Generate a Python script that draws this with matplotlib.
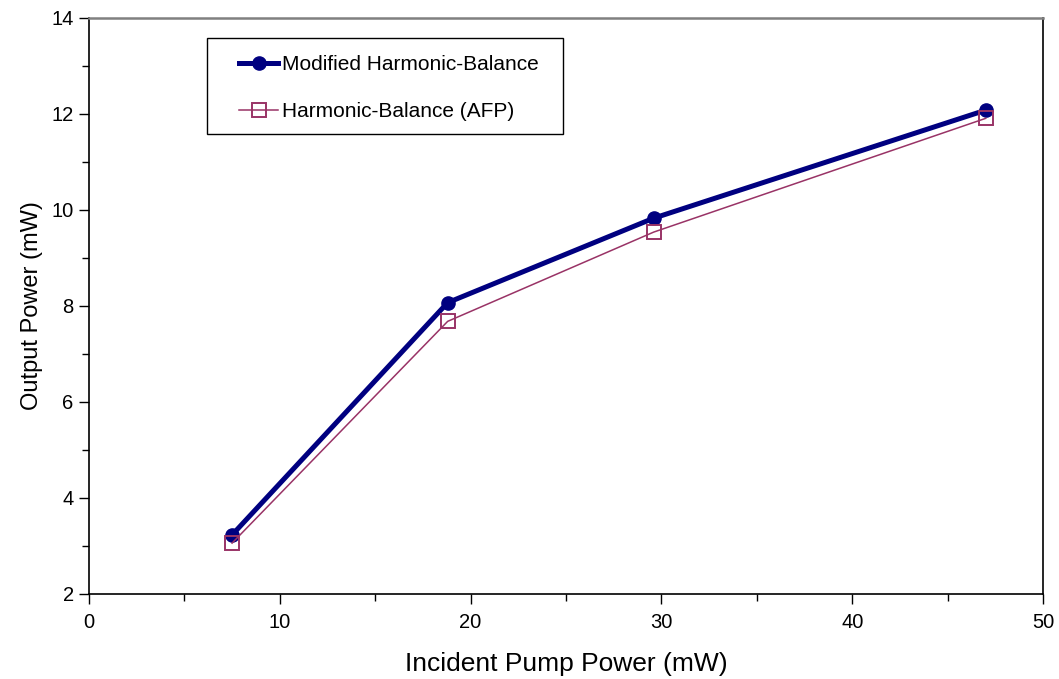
import matplotlib
matplotlib.use("Agg")
import matplotlib.pyplot as plt
from matplotlib.patches import Rectangle
from matplotlib.ticker import MultipleLocator

plt.rcParams['font.family'] = ['Liberation Sans', 'DejaVu Sans']

# data
pump_power = [7.5, 18.8, 29.6, 47.0]
modified_hb = [3.23, 8.07, 9.83, 12.08]
hb_afp = [3.06, 7.68, 9.54, 11.91]

fig = plt.figure(figsize=(10.59, 6.79), dpi=100)
ax = fig.add_axes([0.0840, 0.1252, 0.9009, 0.8483])

ax.plot(pump_power, modified_hb, color="#000080", lw=3.6, marker="o",
        markersize=9.5, label="Modified Harmonic-Balance", zorder=3)
ax.plot(pump_power, hb_afp, color="#993366", lw=1.1, marker="s",
        markersize=10, markerfacecolor="none", markeredgewidth=1.4,
        label="Harmonic-Balance (AFP)", zorder=4)

ax.set_xlim(0, 50)
ax.set_ylim(2, 14)
ax.xaxis.set_major_locator(MultipleLocator(10))
ax.xaxis.set_minor_locator(MultipleLocator(5))
ax.yaxis.set_major_locator(MultipleLocator(2))
ax.yaxis.set_minor_locator(MultipleLocator(1))
ax.tick_params(which="both", direction="out", labelsize=14.5, width=1)
ax.tick_params(which="major", length=7)
ax.tick_params(which="minor", length=5)
ax.tick_params(axis="x", pad=7)
ax.tick_params(axis="y", pad=4)

for side in ["left", "bottom", "right"]:
    ax.spines[side].set_color("black")
    ax.spines[side].set_linewidth(1.2)
ax.spines["top"].set_color("#808080")
ax.spines["top"].set_linewidth(1.8)

ax.set_xlabel("Incident Pump Power (mW)", fontsize=19, labelpad=14)
ax.set_ylabel("Output Power (mW)", fontsize=17, labelpad=6)

# legend box drawn by hand, entries without frame
ax.add_patch(Rectangle((0.124, 0.799), 0.373, 0.167, transform=ax.transAxes,
                       facecolor="white", edgecolor="black", lw=1.0, zorder=5))
leg = ax.legend(loc="upper left", bbox_to_anchor=(0.157, 0.936),
                fontsize=15, frameon=False, handlelength=1.9,
                handletextpad=0.2, borderpad=0, labelspacing=1.35,
                borderaxespad=0)
leg.set_zorder(6)

fig.savefig("out.png", dpi=100)
